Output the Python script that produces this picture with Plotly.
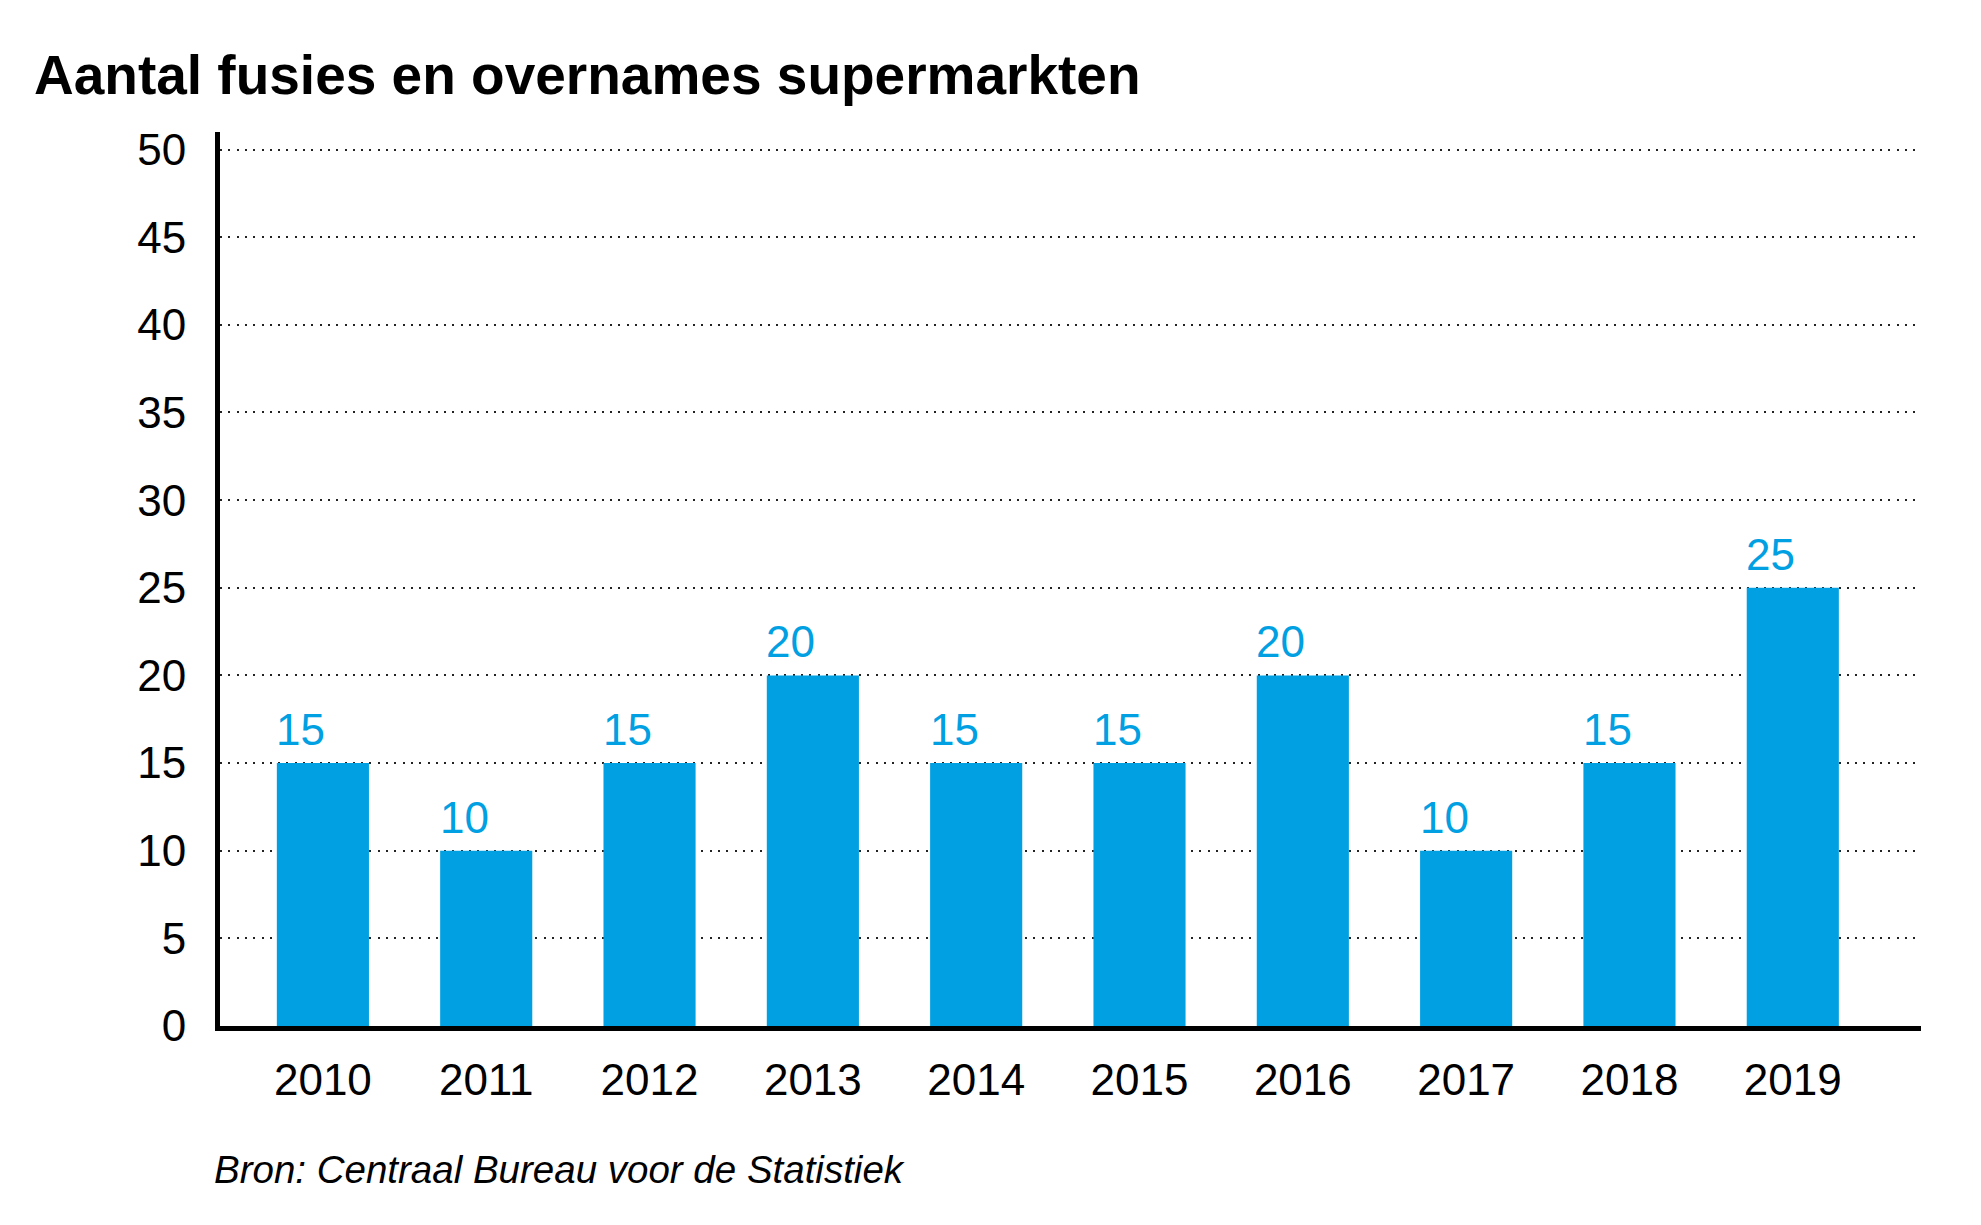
import plotly.graph_objects as go

# ---- data ----
years = ["2010", "2011", "2012", "2013", "2014", "2015", "2016", "2017", "2018", "2019"]
counts = [15, 10, 15, 20, 15, 15, 20, 10, 15, 25]
y_ticks = [0, 5, 10, 15, 20, 25, 30, 35, 40, 45, 50]

title_text = "Aantal fusies en overnames supermarkten"
source_text = "Bron: Centraal Bureau voor de Statistiek"

# ---- layout constants ----
W, H = 1981, 1225
L, R, T, B = 212, 68, 124, 207
BLUE = "#00A0E2"
FONT = "Liberation Sans"

fig = go.Figure()
fig.add_trace(go.Bar(
    x=years, y=counts, width=0.564,
    marker=dict(color=BLUE, line=dict(width=0)),
    hoverinfo="skip",
))

for i, v in enumerate(counts):
    fig.add_annotation(
        x=i, y=v, xref="x", yref="y", text=str(v), showarrow=False,
        xanchor="center", yanchor="bottom", xshift=-22, yshift=7,
        font=dict(family=FONT, size=44, color=BLUE),
    )

plot_h = H - T - B
fig.add_annotation(
    x=-8 / (W - L - R), xref="paper", xanchor="left",
    y=-(1161 - (H - B)) / plot_h, yref="paper", yanchor="middle",
    text="<i>" + source_text + "</i>", showarrow=False,
    font=dict(family=FONT, size=38.5, color="#000000"),
)

fig.update_layout(
    width=W, height=H,
    margin=dict(l=L, r=R, t=T, b=B, pad=0),
    paper_bgcolor="white", plot_bgcolor="white",
    showlegend=False,
    title=dict(
        text="<b>" + title_text + "</b>",
        x=26 / W, xref="container", xanchor="left",
        y=1 - 67 / H, yref="container", yanchor="middle",
        font=dict(family=FONT, size=55, color="#000000"),
    ),
)

fig.update_xaxes(
    type="category", range=[-0.63, 9.785],
    showline=True, linecolor="#000000", linewidth=5,
    showgrid=False, zeroline=False, ticks="",
    ticklabelstandoff=11,
    tickfont=dict(family=FONT, size=44, color="#000000"),
)
fig.update_yaxes(
    range=[0, 51], tickvals=y_ticks,
    showline=True, linecolor="#000000", linewidth=5,
    showgrid=True, gridcolor="#222222", gridwidth=2, griddash="2px,6.3px",
    zeroline=False, ticks="",
    ticklabelstandoff=20,
    tickfont=dict(family=FONT, size=44, color="#000000"),
)

fig.write_html("out.html")
